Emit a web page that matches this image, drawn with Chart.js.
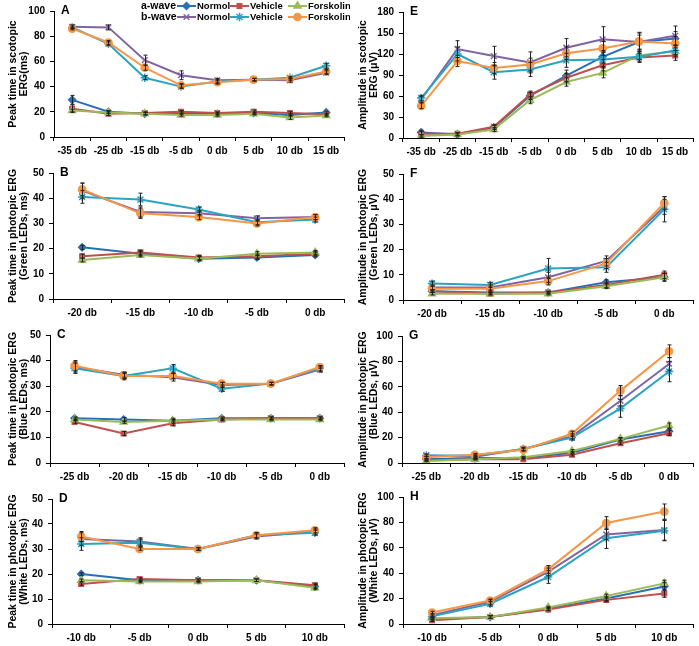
<!DOCTYPE html>
<html>
<head>
<meta charset="utf-8">
<script src="https://cdn.jsdelivr.net/npm/chart.js@4.4.0/dist/chart.umd.min.js"></script>
<style>
  body { margin: 0; background: #fff; }
  #wrap { position: relative; width: 699px; height: 646px; }
  canvas { position: absolute; }
</style>
</head>
<body>
<div id="wrap"></div>
<script>
// Series order in every panel: a-wave Normol, Vehicle, Forskolin, then b-wave Normol, Vehicle, Forskolin
const groupNames = ['Normol', 'Vehicle', 'Forskolin'];
const waveLabels = ['a-wave', 'b-wave'];

// Categories (stimulus intensity)
const catsA = ['-35 db', '-25 db', '-15 db', '-5 db', '0 db', '5 db', '10 db', '15 db'];
const catsB = ['-20 db', '-15 db', '-10 db', '-5 db', '0 db'];
const catsC = ['-25 db', '-20 db', '-15 db', '-10 db', '-5 db', '0 db'];
const catsD = ['-10 db', '-5 db', '0 db', '5 db', '10 db'];

// A: peak time, scotopic
const valsA = [
  [29.5, 20, 18.5, 19, 18.5, 19, 17.5, 19.5],
  [22.5, 18.5, 19, 20, 19, 20, 19, 18],
  [21, 19.5, 18.5, 17.5, 17.5, 18.5, 15.5, 17],
  [87.5, 87, 61, 49, 45, 45.5, 45, 51],
  [87, 74, 47, 40, 44, 45.5, 47, 56.5],
  [86, 75, 55, 41, 43.5, 45.5, 46, 52]
];
const errsA = [
  [3.5, 1, 1, 1, 1, 1, 1, 1],
  [3, 1.5, 1, 1, 1, 1.5, 1, 1],
  [1, 1, 1, 1, 1, 1, 1.5, 1],
  [1.5, 2, 4, 3.5, 1.5, 1, 1.5, 1.5],
  [1, 1.5, 1.5, 1.5, 1.5, 1, 1, 2],
  [1, 1.5, 2, 1.5, 1.5, 1, 1, 1.5]
];
// E: amplitude, scotopic
const valsE = [
  [8, 5, 15, 60, 89, 116, 137, 142],
  [6, 6, 16, 62, 86, 104, 115, 118],
  [3, 5, 12, 54, 80, 93, 118, 124],
  [55, 127, 117, 108, 129, 141, 137, 146],
  [57, 120, 94, 98, 111, 112, 116, 125],
  [46, 110, 100, 105, 121, 128, 138, 135]
];
const errsE = [
  [3, 2, 3, 5, 8, 9, 10, 10],
  [3, 2, 3, 5, 6, 8, 6, 7],
  [2, 2, 3, 5, 6, 7, 6, 5],
  [4, 12, 14, 15, 13, 18, 14, 14],
  [4, 10, 10, 10, 10, 10, 8, 8],
  [4, 8, 8, 9, 9, 10, 12, 10]
];
// B: peak time, green LEDs
const valsB = [
  [20.5, 18, 16, 16.5, 17.5],
  [17, 18.5, 16.5, 17, 18],
  [15.5, 17.5, 16, 18, 18.5],
  [43, 34.5, 34, 32, 32.5],
  [40.5, 39.5, 35.5, 30.5, 31.5],
  [43.5, 34, 32.5, 30, 32.5]
];
const errsB = [
  [0.8, 0.8, 0.8, 0.8, 0.8],
  [0.8, 0.8, 0.8, 0.8, 0.8],
  [0.8, 0.8, 0.8, 0.8, 0.8],
  [3, 2, 1, 1, 1],
  [2.5, 2.5, 1, 1, 1],
  [2.5, 2, 1, 1, 1]
];
// F: amplitude, green LEDs
const valsF = [
  [3.5, 3, 3, 7, 9],
  [3.5, 2.5, 3, 6, 10],
  [2.5, 2.5, 2.5, 5.5, 9],
  [5, 5, 9, 15.5, 37],
  [6.5, 6, 12.5, 13, 36],
  [4.5, 4.5, 7.5, 14.5, 38.5]
];
const errsF = [
  [0.5, 0.5, 0.5, 1, 1.5],
  [0.5, 0.5, 0.5, 1, 1.5],
  [0.5, 0.5, 0.5, 1, 1.5],
  [1, 1, 2, 2, 3],
  [1, 1, 4, 2, 5],
  [1, 1, 1.5, 2, 2.5]
];
// C: peak time, blue LEDs
const valsC = [
  [17.5, 17, 16.5, 17.5, 17.5, 17.5],
  [16, 11.5, 15.5, 17, 17.5, 17.5],
  [17, 16, 16.5, 17, 17, 17],
  [37.5, 34.5, 33.5, 30.5, 31, 36.5],
  [37, 34, 37, 29, 31, 37],
  [38, 34, 34, 31, 31, 37.5]
];
const errsC = [
  [0.5, 0.8, 1, 0.5, 0.5, 0.5],
  [0.5, 0.8, 1, 0.5, 0.5, 0.5],
  [0.5, 0.5, 0.5, 0.5, 0.5, 0.5],
  [2, 1, 1.5, 1, 0.5, 1],
  [2, 1, 1.5, 1, 0.5, 1],
  [2, 1.5, 1, 0.5, 0.5, 0.5]
];
// G: amplitude, blue LEDs
const valsG = [
  [3, 4, 4, 8, 18.5, 25],
  [2, 3, 3, 6.5, 15.5, 23.5],
  [1.5, 3, 4.5, 9.5, 19, 29.5],
  [6, 5, 11, 21, 49, 78],
  [6, 6, 11, 20, 43, 72],
  [4.5, 6.5, 10.5, 23, 57, 88]
];
const errsG = [
  [0.5, 0.5, 0.5, 1, 1, 2],
  [0.5, 0.5, 0.5, 1, 1, 2],
  [0.5, 0.5, 0.5, 1, 1, 2],
  [1, 1, 1, 2, 4, 5],
  [1, 1, 1.5, 2, 7, 8],
  [1, 1, 1, 2, 4, 5]
];
// D: peak time, white LEDs
const valsD = [
  [20, 17.5, 17.5, 17.5, 15],
  [16, 18, 17.5, 17.5, 15.5],
  [17.5, 17, 17, 17.5, 14.5],
  [34, 33, 30, 35, 37],
  [32, 32.5, 30, 35.5, 36.5],
  [35, 30, 30, 35.5, 37.5]
];
const errsD = [
  [0.5, 0.5, 0.5, 0.5, 0.8],
  [0.5, 0.5, 0.5, 0.5, 0.8],
  [0.5, 0.5, 0.5, 0.5, 0.8],
  [2.5, 1.5, 0.5, 1, 1],
  [2.5, 1.5, 0.5, 1, 1],
  [2, 0.5, 0.5, 1, 1]
];
// H: amplitude, white LEDs
const valsH = [
  [4, 5.5, 12, 20, 29.5],
  [3, 5.5, 11.5, 19, 24],
  [4.5, 5.5, 13, 22, 32],
  [7, 17.5, 41, 70.5, 74],
  [6, 16, 37, 67.5, 73.5],
  [9, 18.5, 43, 79.5, 88.5]
];
const errsH = [
  [1, 1, 1, 1.5, 3],
  [1, 1, 1, 1.5, 3],
  [1, 1, 1, 1.5, 2.5],
  [1, 2, 3, 4, 8],
  [1, 2, 5, 8, 8],
  [1, 1, 3, 5, 6]
];

// Look of each series (same order as the value arrays)
const colores = ['#2a6fb5', '#c0504d', '#9bbb59', '#8064a2', '#2ba3c2', '#f79646'];
const estilos = ['rectRot', 'rect', 'triangle', 'crossRot', 'star', 'circle'];
const radios = [3.5, 3.2, 4, 4, 4.2, 3.6];

const FUENTE = '"Liberation Sans", Arial, sans-serif';

// Plugin para las barras de error
const barrasError = {
  id: 'barrasError',
  afterDatasetsDraw(chart) {
    const ctx = chart.ctx;
    const y = chart.scales.y;
    ctx.save();
    ctx.strokeStyle = '#222';
    ctx.lineWidth = 1;
    chart.data.datasets.forEach((ds, i) => {
      if (!ds.errores) return;
      chart.getDatasetMeta(i).data.forEach((pt, j) => {
        const e = ds.errores[j];
        if (!e) return;
        const x = Math.round(pt.x) + 0.5;
        const t = y.getPixelForValue(ds.data[j] + e);
        const b = y.getPixelForValue(ds.data[j] - e);
        ctx.beginPath();
        ctx.moveTo(x, t); ctx.lineTo(x, b);
        ctx.moveTo(x - 2, t); ctx.lineTo(x + 2, t);
        ctx.moveTo(x - 2, b); ctx.lineTo(x + 2, b);
        ctx.stroke();
      });
    });
    ctx.restore();
  }
};

// Plugin para la letra del panel y la leyenda del panel A
const letraPanel = {
  id: 'letraPanel',
  afterDraw(chart, args, opts) {
    const ctx = chart.ctx;
    const area = chart.chartArea;
    ctx.save();
    ctx.fillStyle = '#000';
    ctx.font = 'bold 12px ' + FUENTE;
    ctx.textBaseline = 'middle';
    ctx.textAlign = 'left';
    ctx.fillText(opts.texto, area.left + 7, area.top);
    if (opts.leyenda) {
      const filas = [6, 17];
      const inicios = [177, 230, 288];
      filas.forEach((fy, w) => {
        ctx.font = 'bold 10.5px ' + FUENTE;
        ctx.fillStyle = '#000';
        ctx.fillText(waveLabels[w], 141, fy);
        groupNames.forEach((nombre, g) => {
          const k = w * 3 + g;
          const x0 = inicios[g];
          ctx.strokeStyle = colores[k];
          ctx.fillStyle = colores[k];
          ctx.lineWidth = 2;
          ctx.beginPath();
          ctx.moveTo(x0, fy); ctx.lineTo(x0 + 19, fy);
          ctx.stroke();
          ctx.lineWidth = 1.5;
          Chart.helpers.drawPoint(ctx, { pointStyle: estilos[k], radius: radios[k], borderWidth: 1.5 }, x0 + 9.5, fy);
          ctx.fillStyle = '#000';
          ctx.font = 'bold 9.5px ' + FUENTE;
          ctx.fillText(nombre, x0 + 20, fy);
        });
      });
    }
    ctx.restore();
  }
};

function crearPanel(id, letra, caja, area, cats, vals, errs, yMax, yPaso, titulo, leyenda) {
  const cv = document.createElement('canvas');
  cv.id = id;
  cv.width = caja[2];
  cv.height = caja[3];
  cv.style.left = caja[0] + 'px';
  cv.style.top = caja[1] + 'px';
  document.getElementById('wrap').appendChild(cv);

  const datasets = vals.map((serie, i) => ({
    label: waveLabels[Math.floor(i / 3)] + ' ' + groupNames[i % 3],
    data: serie,
    errores: errs[i],
    borderColor: colores[i],
    backgroundColor: colores[i],
    borderWidth: 2,
    pointStyle: estilos[i],
    pointRadius: radios[i],
    pointBorderWidth: 1.5,
    tension: 0,
    order: 6 - i
  }));

  return new Chart(cv.getContext('2d'), {
    type: 'line',
    data: { labels: cats, datasets: datasets },
    options: {
      responsive: false,
      animation: false,
      events: [],
      layout: {
        padding: {
          top: area[1] - caja[1],
          right: caja[0] + caja[2] - area[2],
          left: 0,
          bottom: 0
        }
      },
      plugins: {
        legend: { display: false },
        tooltip: { enabled: false },
        letraPanel: { texto: letra, leyenda: leyenda }
      },
      scales: {
        x: {
          type: 'category',
          offset: true,
          grid: { offset: true, drawOnChartArea: false, drawTicks: true, tickLength: 4, color: '#000' },
          border: { color: '#000', width: 1 },
          ticks: {
            autoSkip: false, maxRotation: 0, padding: 4, color: '#000',
            font: { family: FUENTE, size: 10, weight: 'bold' }
          },
          afterFit(scale) { scale.height = caja[1] + caja[3] - area[3]; }
        },
        y: {
          min: 0,
          max: yMax,
          grid: { drawOnChartArea: false, drawTicks: true, tickLength: 4, color: '#000' },
          border: { color: '#000', width: 1 },
          ticks: {
            stepSize: yPaso, padding: 5, color: '#000',
            font: { family: FUENTE, size: 10, weight: 'bold' }
          },
          title: {
            display: true,
            text: titulo,
            color: '#000',
            padding: { top: 7, bottom: 0 },
            font: { family: FUENTE, size: 10.5, weight: 'bold', lineHeight: 1.1 }
          },
          afterFit(scale) { scale.width = area[0] - caja[0]; }
        }
      }
    },
    plugins: [barrasError, letraPanel]
  });
}

// caja: [x, y, ancho, alto] del canvas; area: [izq, arriba, der, abajo] del area de trazado
crearPanel('cA', 'A', [0, 0, 350, 162], [54, 11, 349, 137], catsA, valsA, errsA, 100, 20,
  ['Peak time in scotopic', 'ERG(ms)'], true);
crearPanel('cE', 'E', [350, 0, 349, 162], [403, 12, 697, 138], catsA, valsE, errsE, 180, 30,
  ['Amplitude in scotopic', 'ERG (\u03bcV)'], false);
crearPanel('cB', 'B', [0, 162, 350, 160], [53, 171, 348, 299], catsB, valsB, errsB, 50, 10,
  ['Peak time in photopic ERG', '(Green LEDs, ms)'], false);
crearPanel('cF', 'F', [350, 162, 349, 160], [403, 174, 697, 300], catsB, valsF, errsF, 50, 10,
  ['Amplitude in photopic ERG', '(Green LEDs, \u03bcV)'], false);
crearPanel('cC', 'C', [0, 322, 350, 160], [50, 335, 347, 463], catsC, valsC, errsC, 50, 10,
  ['Peak time in photopic ERG', '(Blue LEDs, ms)'], false);
crearPanel('cG', 'G', [350, 322, 349, 160], [402, 336, 697, 463], catsC, valsG, errsG, 100, 20,
  ['Amplitude in photopic ERG', '(Blue LEDs, \u03bcV)'], false);
crearPanel('cD', 'D', [0, 482, 350, 164], [52, 499, 344, 624], catsD, valsD, errsD, 50, 10,
  ['Peak time in photopic ERG', '(White LEDs, ms)'], false);
crearPanel('cH', 'H', [350, 482, 349, 164], [403, 497, 697, 624], catsD, valsH, errsH, 100, 20,
  ['Amplitude in photopic ERG', '(White LEDs, \u03bcV)'], false);
</script>
</body>
</html>
